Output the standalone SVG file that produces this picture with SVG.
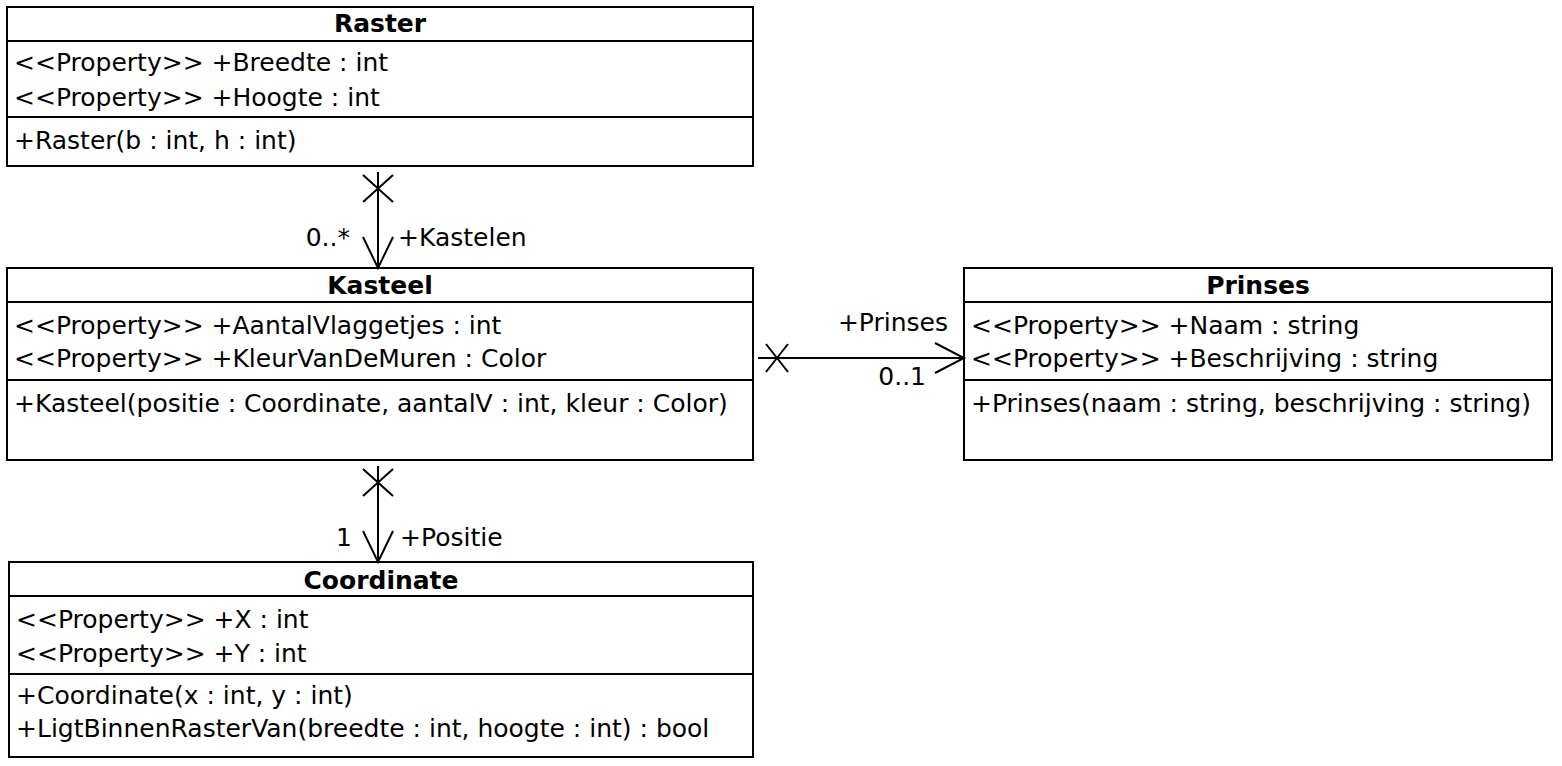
<svg xmlns="http://www.w3.org/2000/svg" width="1562" height="766" viewBox="0 0 1562 766">
<style>
.box{fill:#fff;stroke:#000;stroke-width:2}
.div{stroke:#000;stroke-width:2}
text{font-family:"DejaVu Sans","Liberation Sans",sans-serif;font-size:25px;fill:#000}
.t{font-weight:bold;text-anchor:middle}
.c{stroke:#000;stroke-width:2;fill:none}
</style>
<rect width="1562" height="766" fill="#fff"/>
<g id="Raster">
<rect class="box" x="7" y="7" width="746" height="159"/>
<line class="div" x1="7" y1="41" x2="753" y2="41"/>
<line class="div" x1="7" y1="117" x2="753" y2="117"/>
<text class="t" x="380" y="32">Raster</text>
<text x="14" y="71">&lt;&lt;Property&gt;&gt; +Breedte : int</text>
<text x="14" y="106">&lt;&lt;Property&gt;&gt; +Hoogte : int</text>
<text x="14" y="149">+Raster(b : int, h : int)</text>
</g>
<g id="Kasteel">
<rect class="box" x="7" y="268" width="746" height="192"/>
<line class="div" x1="7" y1="302" x2="753" y2="302"/>
<line class="div" x1="7" y1="380" x2="753" y2="380"/>
<text class="t" x="380" y="294">Kasteel</text>
<text x="14" y="334">&lt;&lt;Property&gt;&gt; +AantalVlaggetjes : int</text>
<text x="14" y="367">&lt;&lt;Property&gt;&gt; +KleurVanDeMuren : Color</text>
<text x="14" y="412">+Kasteel(positie : Coordinate, aantalV : int, kleur : Color)</text>
</g>
<g id="Prinses">
<rect class="box" x="964" y="268" width="588" height="192"/>
<line class="div" x1="964" y1="302" x2="1552" y2="302"/>
<line class="div" x1="964" y1="380" x2="1552" y2="380"/>
<text class="t" x="1258" y="294">Prinses</text>
<text x="971" y="334">&lt;&lt;Property&gt;&gt; +Naam : string</text>
<text x="971" y="367">&lt;&lt;Property&gt;&gt; +Beschrijving : string</text>
<text x="971" y="412">+Prinses(naam : string, beschrijving : string)</text>
</g>
<g id="Coordinate">
<rect class="box" x="9" y="562" width="744" height="195"/>
<line class="div" x1="9" y1="596" x2="753" y2="596"/>
<line class="div" x1="9" y1="674" x2="753" y2="674"/>
<text class="t" x="381" y="589">Coordinate</text>
<text x="16" y="628">&lt;&lt;Property&gt;&gt; +X : int</text>
<text x="16" y="662">&lt;&lt;Property&gt;&gt; +Y : int</text>
<text x="16" y="704">+Coordinate(x : int, y : int)</text>
<text x="16" y="737">+LigtBinnenRasterVan(breedte : int, hoogte : int) : bool</text>
</g>
<g id="connectors">
<path class="c" d="M378 172V268M363 175L393 202M393 175L363 202M363 237L378 268L393 237"/>
<text x="350" y="246" text-anchor="end">0..*</text>
<text x="398" y="246">+Kastelen</text>
<path class="c" d="M758 358H964M766 344L788 372M788 344L766 372M935 343L964 358L935 373"/>
<text x="948" y="331" text-anchor="end">+Prinses</text>
<text x="926" y="385" text-anchor="end">0..1</text>
<path class="c" d="M378 466V562M363 469L393 496M393 469L363 496M363 531L378 562L393 531"/>
<text x="352" y="546" text-anchor="end">1</text>
<text x="400" y="546">+Positie</text>
</g>
</svg>
